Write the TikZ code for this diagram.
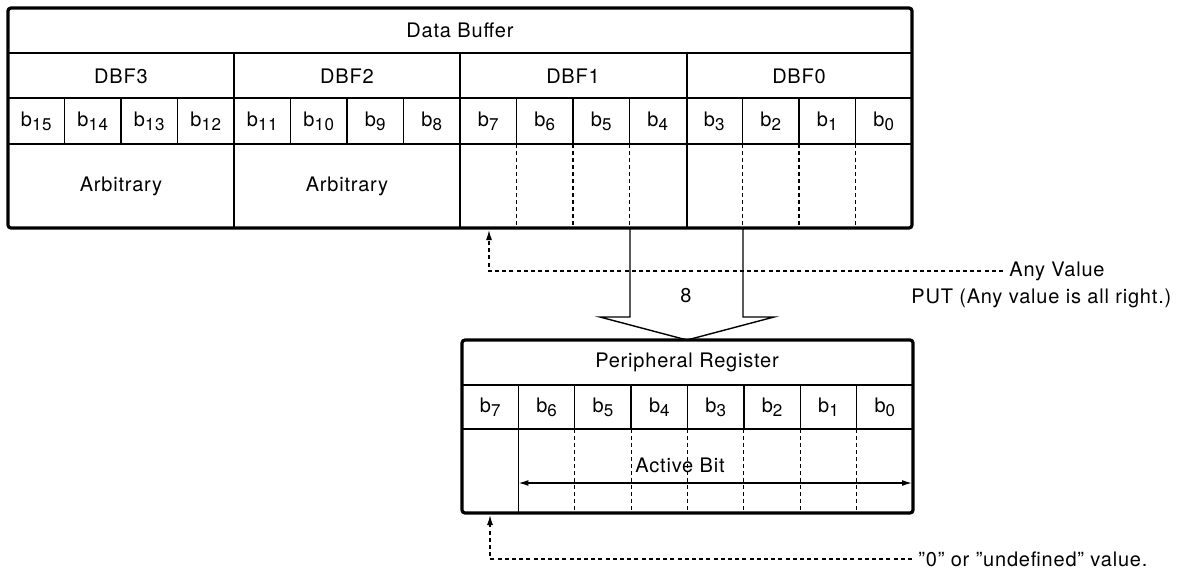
\documentclass[tikz,border=0pt]{standalone}
\usepackage{fontspec}
\setmainfont{TeX Gyre Heros}[LetterSpace=4]
\usetikzlibrary{arrows.meta,positioning,calc}

\newcommand{\bitlbl}[1]{b\raisebox{-0.4ex}{\fontsize{8.5}{9}\selectfont #1}}

\begin{document}
\begin{tikzpicture}[
  x=0.5pt, y=-0.5pt,
  frame/.style={line width=1.6pt, rounded corners=1.5pt},
  grid/.style={line width=0.7pt},
  dotgrid/.style={line width=0.6pt, dash pattern=on 2pt off 1.5pt},
  lead/.style={line width=0.6pt, dash pattern=on 2pt off 1.6pt},
  tip/.style={-{Latex[length=5pt,width=3pt]}},
  lbl/.style={font=\fontsize{10}{12}\selectfont, inner sep=1pt},
  note/.style={lbl, anchor=west, inner xsep=3pt},
]
\useasboundingbox (0,0) rectangle (1181,569);

% data buffer
\draw[grid] (8,53) -- (912,53);
\draw[grid] (8,98) -- (912,98);
\draw[grid] (8,144) -- (912,144);
\foreach \x in {234,460,687} \draw[grid] (\x,53) -- (\x,228);
\foreach \k in {1,2,3,5,6,7,9,10,11,13,14,15}
  \draw[grid] ({8+56.5*\k},98) -- ({8+56.5*\k},144);
\foreach \k in {9,10,11,13,14,15}
  \draw[dotgrid] ({8+56.5*\k},144) -- ({8+56.5*\k},228);
\draw[frame] (8,8) rectangle (912,228);

\node[lbl] (buftitle) at (460,30) {Data Buffer};
\foreach \g/\n in {0/3,1/2,2/1,3/0}
  \node[lbl] (dbf\n) at ({121+226*\g},76) {DBF\n};
\foreach \k in {0,...,15} {
  \pgfmathtruncatemacro\bitno{15-\k}
  \node[lbl] (buf-b\bitno) at ({8+56.5*(\k+0.5)},121) {\bitlbl{\bitno}};
}
\node[lbl] (arb3) at (121,186) {Arbitrary};
\node[lbl] (arb2) at (347,186) {Arbitrary};

% transfer arrow
\draw[grid] (630,228) -- (630,317) -- (600,317) -- (687,340)
  -- (774,317) -- (743,317) -- (743,228);
\node[lbl] (width) at (686,296) {8};

% peripheral register
\draw[grid] (462,385) -- (913,385);
\draw[grid] (462,429) -- (913,429);
\foreach \k in {1,...,7}
  \draw[grid] ({462+56.375*\k},385) -- ({462+56.375*\k},429);
\draw[grid] (518.4,429) -- (518.4,513);
\foreach \k in {2,...,7}
  \draw[dotgrid] ({462+56.375*\k},429) -- ({462+56.375*\k},513);
\draw[frame] (462,340) rectangle (913,513);

\node[lbl] (regtitle) at (687,362) {Peripheral Register};
\foreach \k in {0,...,7} {
  \pgfmathtruncatemacro\bitno{7-\k}
  \node[lbl] (reg-b\bitno) at ({462+56.375*(\k+0.5)},407) {\bitlbl{\bitno}};
}
\node[lbl] (active) at (680,465) {Active Bit};
\coordinate (act-l) at (518.4,483);
\coordinate (act-r) at (912,483);
\draw[grid, {Latex[length=5pt,width=3pt]}-{Latex[length=5pt,width=3pt]}] (act-l) -- (act-r);

% notes
\coordinate (buf-in) at (489,230);
\coordinate (reg-in) at (490,515);
\node[note] (anyval) at (1003,271) {Any Value};
\node[note] (putnote) at (905,298) {PUT (Any value is all right.)};
\node[note] (zeroval) at (912,559) {''0'' or ''undefined'' value.};
\draw[lead, tip] (anyval.west) -| (buf-in);
\draw[lead, tip] (zeroval.west) -| (reg-in);
\end{tikzpicture}
\end{document}
